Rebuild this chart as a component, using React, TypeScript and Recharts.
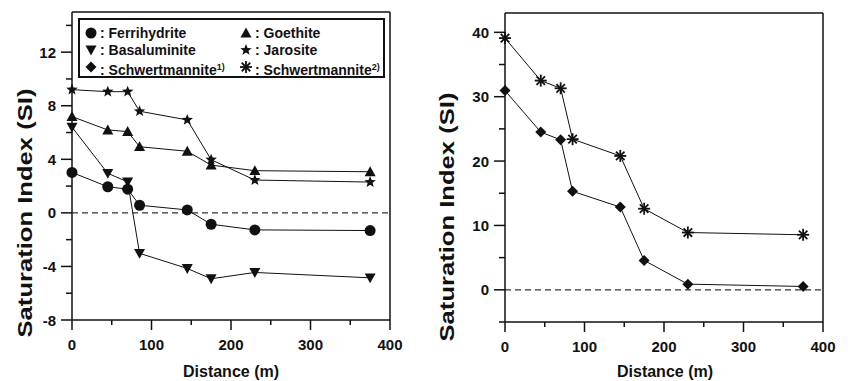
import { Line, LineChart, ReferenceLine, XAxis, YAxis } from "recharts";

const distance = [0, 45, 70, 85, 145, 175, 230, 375];
const ferrihydrite = [3.02, 1.95, 1.77, 0.57, 0.22, -0.85, -1.27, -1.32];
const goethite = [7.19, 6.19, 6.07, 4.94, 4.6, 3.57, 3.15, 3.07];
const basaluminite = [6.4, 2.95, 2.32, -3.02, -4.15, -4.92, -4.45, -4.85];
const jarosite = [9.2, 9.05, 9.05, 7.59, 6.94, 3.97, 2.45, 2.3];
const schwertmannite1 = [30.95, 24.5, 23.3, 15.3, 12.85, 4.57, 0.88, 0.52];
const schwertmannite2 = [39.1, 32.5, 31.3, 23.4, 20.8, 12.6, 8.9, 8.55];

const xTicks = [0, 50, 100, 150, 200, 250, 300, 350, 400];
const leftTicks = [-8, -6, -4, -2, 0, 2, 4, 6, 8, 10, 12, 14];
const rightTicks = [-5, 0, 5, 10, 15, 20, 25, 30, 35, 40];

const leftData = distance.map((d, i) => ({
  distance: d,
  ferrihydrite: ferrihydrite[i],
  goethite: goethite[i],
  basaluminite: basaluminite[i],
  jarosite: jarosite[i],
}));

const rightData = distance.map((d, i) => ({
  distance: d,
  schwertmannite1: schwertmannite1[i],
  schwertmannite2: schwertmannite2[i],
}));

const INK = "#111";
const FONT = "'Liberation Sans', Arial, sans-serif";

// marker shapes
function circle(cx: number, cy: number) {
  return <circle cx={cx} cy={cy} r={5.5} fill={INK} />;
}
function triUp(cx: number, cy: number) {
  const s = 5.5;
  return <polygon points={`${cx},${cy - s} ${cx - s},${cy + s * 0.8} ${cx + s},${cy + s * 0.8}`} fill={INK} />;
}
function triDown(cx: number, cy: number) {
  const s = 5.5;
  return <polygon points={`${cx},${cy + s} ${cx - s},${cy - s * 0.8} ${cx + s},${cy - s * 0.8}`} fill={INK} />;
}
function star(cx: number, cy: number) {
  const pts: string[] = [];
  for (let k = 0; k < 10; k++) {
    const r = k % 2 === 0 ? 6 : 2.6;
    const a = -Math.PI / 2 + (k * Math.PI) / 5;
    pts.push(`${cx + r * Math.cos(a)},${cy + r * Math.sin(a)}`);
  }
  return <polygon points={pts.join(" ")} fill={INK} />;
}
function diamond(cx: number, cy: number) {
  const s = 5.5;
  return <polygon points={`${cx},${cy - s} ${cx + s},${cy} ${cx},${cy + s} ${cx - s},${cy}`} fill={INK} />;
}
function asterisk(cx: number, cy: number) {
  const arms = [];
  for (let k = 0; k < 4; k++) {
    const a = (k * Math.PI) / 4;
    const dx = 6 * Math.cos(a);
    const dy = 6 * Math.sin(a);
    arms.push(<line key={k} x1={cx - dx} y1={cy - dy} x2={cx + dx} y2={cy + dy} stroke={INK} strokeWidth={1.8} />);
  }
  return <g>{arms}</g>;
}

const dotOf = (shape: (cx: number, cy: number) => any) => (p: any) => (
  <g key={`dot-${p.dataKey}-${p.index}`}>{shape(p.cx, p.cy)}</g>
);

function XTick(props: any) {
  const { x, y, payload } = props;
  const major = payload.value % 100 === 0;
  return (
    <g>
      <line x1={x} x2={x} y1={y} y2={y + (major ? 10 : 5)} stroke={INK} strokeWidth={1.5} />
      {major && (
        <text x={x} y={y + 30} textAnchor="middle" fill={INK} fontSize={15} fontWeight="bold" fontFamily={FONT}>
          {payload.value}
        </text>
      )}
    </g>
  );
}

const makeYTick = (step: number) => (props: any) => {
  const { x, y, payload } = props;
  const major = payload.value % step === 0;
  return (
    <g>
      <line x1={x - (major ? 11 : 6)} x2={x} y1={y} y2={y} stroke={INK} strokeWidth={1.5} />
      {major && (
        <text x={x - 16} y={y + 5.5} textAnchor="end" fill={INK} fontSize={15} fontWeight="bold" fontFamily={FONT}>
          {payload.value}
        </text>
      )}
    </g>
  );
};

const titleStyle = { fill: INK, fontWeight: "bold", fontFamily: FONT } as const;

// axis titles drawn in one overlay
function Titles() {
  return (
    <svg width={853} height={381} style={{ position: "absolute", left: 0, top: 0, pointerEvents: "none" }}>
      <text transform="translate(25,213) rotate(-90) scale(1.28,1)" textAnchor="middle" dominantBaseline="central"
        fontSize={20} {...titleStyle}>
        Saturation Index (SI)
      </text>
      <text transform="translate(447,217) rotate(-90) scale(1.28,1)" textAnchor="middle" dominantBaseline="central"
        fontSize={20} {...titleStyle}>
        Saturation Index (SI)
      </text>
      <text x={231} y={377} textAnchor="middle" fontSize={16} {...titleStyle}>
        Distance (m)
      </text>
      <text x={665} y={377} textAnchor="middle" fontSize={16} {...titleStyle}>
        Distance (m)
      </text>
    </svg>
  );
}

const legendItems = [
  { shape: circle, name: "Ferrihydrite", col: 0, row: 0 },
  { shape: triUp, name: "Goethite", col: 1, row: 0 },
  { shape: triDown, name: "Basaluminite", col: 0, row: 1 },
  { shape: star, name: "Jarosite", col: 1, row: 1 },
  { shape: diamond, name: "Schwertmannite", sup: "1)", col: 0, row: 2 },
  { shape: asterisk, name: "Schwertmannite", sup: "2)", col: 1, row: 2 },
];

function LegendBox() {
  return (
    <div
      style={{
        position: "absolute",
        left: 78,
        top: 18,
        width: 303,
        height: 56,
        border: `2px solid ${INK}`,
        background: "#fff",
        fontFamily: FONT,
        fontWeight: "bold",
        fontSize: 14,
        color: INK,
      }}
    >
      {legendItems.map((it) => {
        const left = it.col === 0 ? 4 : 159;
        const top = 5 + it.row * 17;
        return (
          <div key={it.name + it.col} style={{ position: "absolute", left, top, whiteSpace: "nowrap", lineHeight: "16px" }}>
            <svg width={14} height={16} style={{ verticalAlign: "top" }}>
              {it.shape(7, 8)}
            </svg>
            <span style={{ marginLeft: 2 }}>
              : {it.name}
              {it.sup && <sup style={{ fontSize: 9, verticalAlign: "5px" }}>{it.sup}</sup>}
            </span>
          </div>
        );
      })}
    </div>
  );
}

const axisLine = { stroke: INK, strokeWidth: 1.5 };

export default function App() {
  return (
    <div style={{ position: "absolute", left: 0, top: 0, width: 853, height: 381, background: "#fff" }}>
      <div style={{ position: "absolute", left: 0, top: 0 }}>
        <LineChart width={415} height={381} data={leftData} margin={{ top: 12, right: 25, bottom: 21, left: 12 }}>
          <XAxis
            type="number"
            dataKey="distance"
            domain={[0, 400]}
            ticks={xTicks}
            interval={0}
            height={40}
            axisLine={axisLine}
            tickLine={false}
            tickSize={0}
            tickMargin={0}
            tick={<XTick />}
          />
          <YAxis
            type="number"
            domain={[-8, 15]}
            ticks={leftTicks}
            interval={0}
            width={60}
            axisLine={axisLine}
            tickLine={false}
            tickSize={0}
            tickMargin={0}
            tick={makeYTick(4)}
          />
          <ReferenceLine y={15} stroke={INK} strokeWidth={1.5} />
          <ReferenceLine x={400} stroke={INK} strokeWidth={1.5} />
          <ReferenceLine y={0} stroke="#333" strokeWidth={1.2} strokeDasharray="6 4" />
          <Line dataKey="ferrihydrite" stroke={INK} strokeWidth={1} dot={dotOf(circle)} isAnimationActive={false} />
          <Line dataKey="goethite" stroke={INK} strokeWidth={1} dot={dotOf(triUp)} isAnimationActive={false} />
          <Line dataKey="basaluminite" stroke={INK} strokeWidth={1} dot={dotOf(triDown)} isAnimationActive={false} />
          <Line dataKey="jarosite" stroke={INK} strokeWidth={1} dot={dotOf(star)} isAnimationActive={false} />
        </LineChart>
        <LegendBox />
      </div>
      <div style={{ position: "absolute", left: 420, top: 0 }}>
        <LineChart width={433} height={381} data={rightData} margin={{ top: 13, right: 30, bottom: 19, left: 25 }}>
          <XAxis
            type="number"
            dataKey="distance"
            domain={[0, 400]}
            ticks={xTicks}
            interval={0}
            height={40}
            axisLine={axisLine}
            tickLine={false}
            tickSize={0}
            tickMargin={0}
            tick={<XTick />}
          />
          <YAxis
            type="number"
            domain={[-5, 43]}
            ticks={rightTicks}
            interval={0}
            width={60}
            axisLine={axisLine}
            tickLine={false}
            tickSize={0}
            tickMargin={0}
            tick={makeYTick(10)}
          />
          <ReferenceLine y={43} stroke={INK} strokeWidth={1.5} />
          <ReferenceLine x={400} stroke={INK} strokeWidth={1.5} />
          <ReferenceLine y={0} stroke="#333" strokeWidth={1.2} strokeDasharray="6 4" />
          <Line dataKey="schwertmannite1" stroke={INK} strokeWidth={1} dot={dotOf(diamond)} isAnimationActive={false} />
          <Line dataKey="schwertmannite2" stroke={INK} strokeWidth={1} dot={dotOf(asterisk)} isAnimationActive={false} />
        </LineChart>
      </div>
      <Titles />
    </div>
  );
}
